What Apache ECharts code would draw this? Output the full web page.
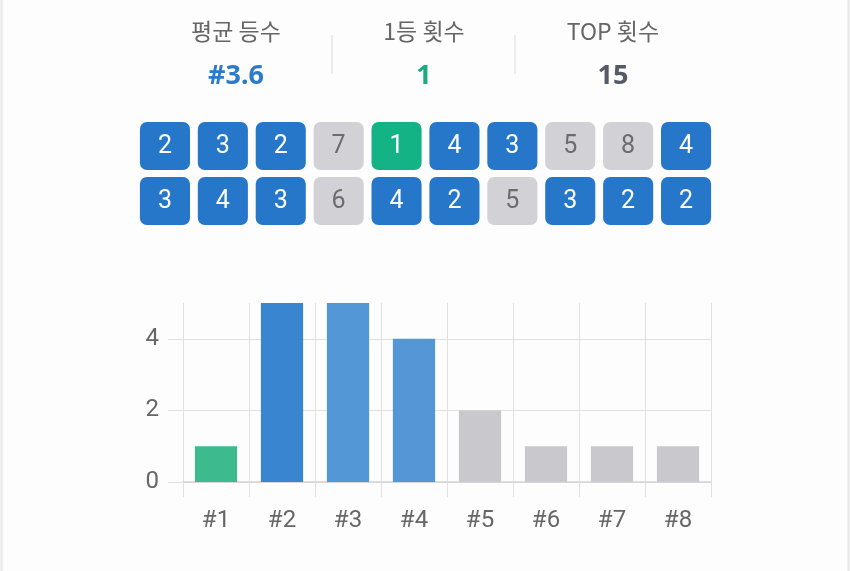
<!DOCTYPE html>
<html><head><meta charset="utf-8">
<script src="https://cdn.jsdelivr.net/npm/echarts@6/dist/echarts.min.js"></script>
<style>html,body{margin:0;padding:0;background:#fdfdfd;}#c{width:850px;height:571px;}</style>
</head><body><div id="c"></div>
<script>
// ---- data ----
const statLabels = ['평균 등수', '1등 횟수', 'TOP 횟수'];
const statValues = ['#3.6', '1', '15'];
const rankRow1 = [2, 3, 2, 7, 1, 4, 3, 5, 8, 4];
const rankRow2 = [3, 4, 3, 6, 4, 2, 5, 3, 2, 2];
const rankCategories = ['#1', '#2', '#3', '#4', '#5', '#6', '#7', '#8'];
const rankCounts = [1, 5, 5, 4, 2, 1, 1, 1];
const yTicks = [0, 2, 4];

// ---- styles ----
const statColors = ['#2b7bca', '#1aab7e', '#555a66'];
const statX = [236, 424, 613];
const barColors = ['#3dbb8f', '#3a85cf', '#5497d6', '#5596d6', '#c8c8cd', '#c8c8cd', '#c8c8cd', '#c8c8cd'];
function tileFill(r) { return r === 1 ? '#13b386' : (r <= 4 ? '#2677c9' : '#d1d1d6'); }
function tileText(r) { return r <= 4 ? '#ffffff' : '#6b6b70'; }

const tileData = [];
rankRow1.forEach((r, i) => tileData.push([i, 0, r]));
rankRow2.forEach((r, i) => tileData.push([i, 1, r]));

const graphics = [];
statLabels.forEach((t, i) => {
  graphics.push({type: 'text', position: [statX[i], 31], style: {text: t, x: 0, y: 0, align: 'center', verticalAlign: 'middle', fill: '#666666', font: '23px "Noto Sans CJK KR", "Noto Sans", sans-serif'}});
  graphics.push({type: 'text', position: [statX[i], 76], style: {text: statValues[i], x: 0, y: 0, align: 'center', verticalAlign: 'middle', fill: statColors[i], font: 'bold 27px "Noto Sans", Roboto, sans-serif'}});
});
[332, 515].forEach(x => graphics.push({type: 'line', shape: {x1: x, y1: 35, x2: x, y2: 74}, style: {stroke: '#e6e6e6', lineWidth: 1.5}}));
graphics.push({type: 'line', shape: {x1: 1.5, y1: 0, x2: 1.5, y2: 571}, style: {stroke: '#e8e8e8', lineWidth: 2}});
graphics.push({type: 'line', shape: {x1: 848.5, y1: 0, x2: 848.5, y2: 571}, style: {stroke: '#e8e8e8', lineWidth: 2}});

const gridColor = '#e1e1e1';
const option = {
  backgroundColor: '#fdfdfd',
  animation: false,
  graphic: graphics,
  grid: [
    {left: 183, right: 139, top: 303, bottom: 89, containLabel: false},
    {left: 136, width: 579, top: 118.5, height: 110}
  ],
  xAxis: [
    {type: 'category', gridIndex: 0, data: rankCategories, boundaryGap: true,
     axisLine: {show: true, lineStyle: {color: '#d4d4d4', width: 1.5}},
     axisTick: {show: true, length: 15, alignWithLabel: false, lineStyle: {color: gridColor}},
     splitLine: {show: true, lineStyle: {color: gridColor}},
     axisLabel: {color: '#666666', fontSize: 24, fontFamily: 'Roboto', margin: 27}},
    {type: 'category', gridIndex: 1, data: rankRow1.map((_, i) => i), show: false}
  ],
  yAxis: [
    {type: 'value', gridIndex: 0, min: 0, max: 5, interval: 2,
     axisLine: {show: false},
     axisTick: {show: true, length: 15, lineStyle: {color: gridColor}},
     splitLine: {show: true, showMaxLine: false, lineStyle: {color: gridColor}},
     axisLabel: {color: '#666666', fontSize: 24, fontFamily: 'Roboto', margin: 24, showMaxLabel: false,
       formatter: v => (yTicks.indexOf(v) >= 0 ? String(v) : '')}},
    {type: 'category', gridIndex: 1, data: ['r1', 'r2'], inverse: true, show: false}
  ],
  series: [
    {type: 'bar', xAxisIndex: 0, yAxisIndex: 0, barWidth: '64%',
     data: rankCounts.map((v, i) => ({value: v, itemStyle: {color: barColors[i]}}))},
    {type: 'custom', xAxisIndex: 1, yAxisIndex: 1, data: tileData,
     renderItem: function (params, api) {
       const c = api.coord([api.value(0), api.value(1)]);
       const s = api.size([1, 1]);
       const w = s[0] * 0.865, h = s[1] * 0.873;
       const r = api.value(2);
       return {type: 'group', children: [
         {type: 'rect', shape: {x: c[0] - w / 2, y: c[1] - h / 2, width: w, height: h, r: 7}, style: {fill: tileFill(r)}},
         {type: 'text', style: {text: String(r), x: c[0], y: c[1] + 1, align: 'center', verticalAlign: 'middle', fill: tileText(r), font: '25px Roboto'}}
       ]};
     }}
  ]
};
const chart = echarts.init(document.getElementById('c'), null, {renderer: 'canvas'});
chart.setOption(option);
</script>
</body></html>
